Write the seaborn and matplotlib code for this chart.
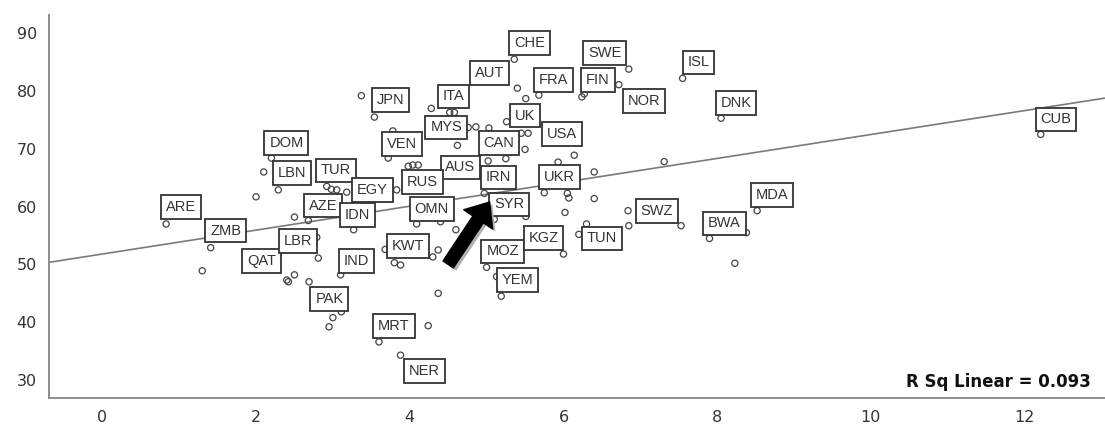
import numpy as np
import pandas as pd
import matplotlib
matplotlib.use("Agg")
import matplotlib.pyplot as plt
import matplotlib.patheffects as pe
import seaborn as sns


# labelled countries (x, y)
codes = ["ARE", "ZMB", "QAT", "LBR", "DOM", "LBN", "TUR", "EGY", "AZE", "IDN",
         "IND", "PAK", "KWT", "MRT", "NER", "JPN", "VEN", "ITA", "MYS", "AUT",
         "CHE", "FRA", "SWE", "FIN", "NOR", "ISL", "DNK", "UK", "USA", "CAN",
         "AUS", "RUS", "OMN", "IRN", "SYR", "UKR", "MOZ", "KGZ", "YEM", "TUN",
         "SWZ", "BWA", "MDA", "CUB"]
code_x = [0.83, 1.41, 2.40, 2.81, 2.20, 2.29, 2.92, 3.83, 2.68, 3.27,
          3.10, 3.11, 3.80, 3.60, 3.88, 3.54, 3.72, 4.52, 4.76, 5.40,
          5.36, 5.68, 6.85, 6.24, 6.72, 7.55, 8.05, 5.26, 6.14, 5.02,
          4.62, 3.98, 4.09, 4.97, 5.10, 5.75, 5.00, 6.00, 5.19, 6.20,
          6.84, 7.90, 8.52, 12.21]
code_y = [57.0, 52.9, 47.3, 51.1, 68.4, 62.9, 63.5, 62.9, 57.6, 56.0,
          48.2, 41.8, 50.3, 36.6, 34.3, 75.5, 68.4, 76.3, 73.7, 80.5,
          85.5, 79.3, 83.8, 79.0, 81.1, 82.2, 75.3, 74.7, 68.9, 67.9,
          70.6, 67.0, 57.0, 62.3, 57.8, 62.4, 49.5, 51.8, 44.5, 55.2,
          59.3, 54.5, 59.3, 72.5]

# unlabelled countries
other_x = [3.37, 4.28, 4.58, 2.10, 2.00, 2.98, 3.05, 3.18, 2.50, 1.30,
           2.79, 2.50, 2.42, 2.69, 3.00, 2.95, 4.40, 4.60, 3.68, 3.88,
           4.37, 4.30, 4.37, 4.24, 5.51, 6.02, 6.85, 7.53, 8.38, 8.23,
           6.30, 5.13, 5.51, 6.27, 4.86, 5.03, 5.45, 5.54, 5.50, 5.25,
           5.93, 6.40, 7.31, 6.05, 6.07, 6.40, 3.78, 4.04, 4.11]
other_y = [79.2, 77.0, 76.3, 66.0, 61.7, 63.0, 62.9, 62.5, 58.2, 48.9,
           54.7, 48.2, 47.0, 47.0, 40.8, 39.2, 57.4, 56.0, 52.6, 49.9,
           52.5, 51.3, 45.0, 39.4, 58.3, 59.0, 56.7, 56.7, 55.5, 50.2,
           57.0, 47.9, 78.7, 79.5, 73.8, 73.6, 72.7, 72.7, 69.9, 68.3,
           67.7, 66.0, 67.8, 62.3, 61.5, 61.4, 73.1, 67.2, 67.2]

x_ticks = [0, 2, 4, 6, 8, 10, 12]
y_ticks = [30, 40, 50, 60, 70, 80, 90]
r_squared = 0.093

# where each label box sits relative to its point (pixels)
label_offsets = {
    "ARE": (15, 17), "ZMB": (15, 17), "QAT": (-25, 19), "LBR": (-20, 17),
    "DOM": (15, 15), "LBN": (14, 17), "TUR": (9, 16), "EGY": (-24, 0),
    "AZE": (15, 15), "IDN": (4, 15), "IND": (16, 14), "PAK": (-12, 13),
    "KWT": (14, 17), "MRT": (15, 16), "NER": (24, -16), "JPN": (16, 17),
    "VEN": (14, 14), "ITA": (4, 16), "MYS": (-22, 0), "AUT": (-28, 15),
    "CHE": (15, 16), "FRA": (15, 15), "SWE": (-24, 16), "FIN": (16, 17),
    "NOR": (25, -16), "ISL": (16, 16), "DNK": (15, 15), "UK": (18, 6),
    "USA": (-12, 21), "CAN": (11, 18), "AUS": (3, -22), "RUS": (14, -16),
    "OMN": (15, 15), "IRN": (14, 16), "SYR": (15, 15), "UKR": (15, 16),
    "MOZ": (16, 16), "KGZ": (-20, 16), "YEM": (16, 16), "TUN": (23, -4),
    "SWZ": (29, 0), "BWA": (15, 15), "MDA": (15, 16), "CUB": (15, 15),
}

df = pd.DataFrame({"x": code_x + other_x, "y": code_y + other_y})

sns.set_style("white")
plt.rcParams["font.family"] = ["DejaVu Sans"]

fig = plt.figure(figsize=(11.05, 4.33), dpi=100)
ax = fig.add_axes([0.0446, 0.0815, 0.955, 0.884])
ax.set_xlim(-0.69, 13.04)
ax.set_ylim(26.94, 93.17)

sns.regplot(data=df, x="x", y="y", ax=ax, scatter=False, ci=None, truncate=False,
            line_kws=dict(color="#7a7a7a", lw=1.2, zorder=2))
sns.scatterplot(data=df, x="x", y="y", ax=ax, marker="o", s=20,
                facecolor="none", edgecolor="#444444", linewidth=0.9, zorder=3)

for c, px, py in zip(codes, code_x, code_y):
    dx, dy = label_offsets[c]
    ax.annotate(c, (px, py), xytext=(dx, dy), textcoords="offset pixels",
                ha="center", va="center", fontsize=10.5, color="#333333",
                family="Liberation Sans", zorder=4,
                bbox=dict(boxstyle="square,pad=0.33", fc="white",
                          ec="#333333", lw=1.3))

# arrow pointing at Syria
ax.annotate("", xy=(5.04, 60.8), xytext=(4.50, 50.0), zorder=5,
            arrowprops=dict(arrowstyle="simple,head_length=1.5,head_width=2.5,tail_width=0.9",
                            mutation_scale=10, fc="black", ec="black",
                            shrinkA=0, shrinkB=0,
                            path_effects=[pe.SimplePatchShadow(offset=(2, -2), shadow_rgbFace="#b0b0b0", alpha=1),
                                          pe.Normal()]))

ax.text(0.9867, 0.027, "R Sq Linear = {:.3f}".format(r_squared), transform=ax.transAxes,
        ha="right", va="baseline", fontsize=12, fontweight="bold", color="#111111")

ax.set_xlim(-0.69, 13.04)
ax.set_ylim(26.94, 93.17)
ax.set_xticks(x_ticks)
ax.set_yticks(y_ticks)
ax.set_xlabel("")
ax.set_ylabel("")
ax.tick_params(axis="both", direction="out", length=6, width=1.4, color="#444444",
               labelsize=11.5, labelcolor="#333333", pad=3)
for s in ["top", "right"]:
    ax.spines[s].set_visible(False)
for s in ["left", "bottom"]:
    ax.spines[s].set_color("#8c8c8c")
    ax.spines[s].set_linewidth(1.4)

fig.savefig("out.png", dpi=100)
